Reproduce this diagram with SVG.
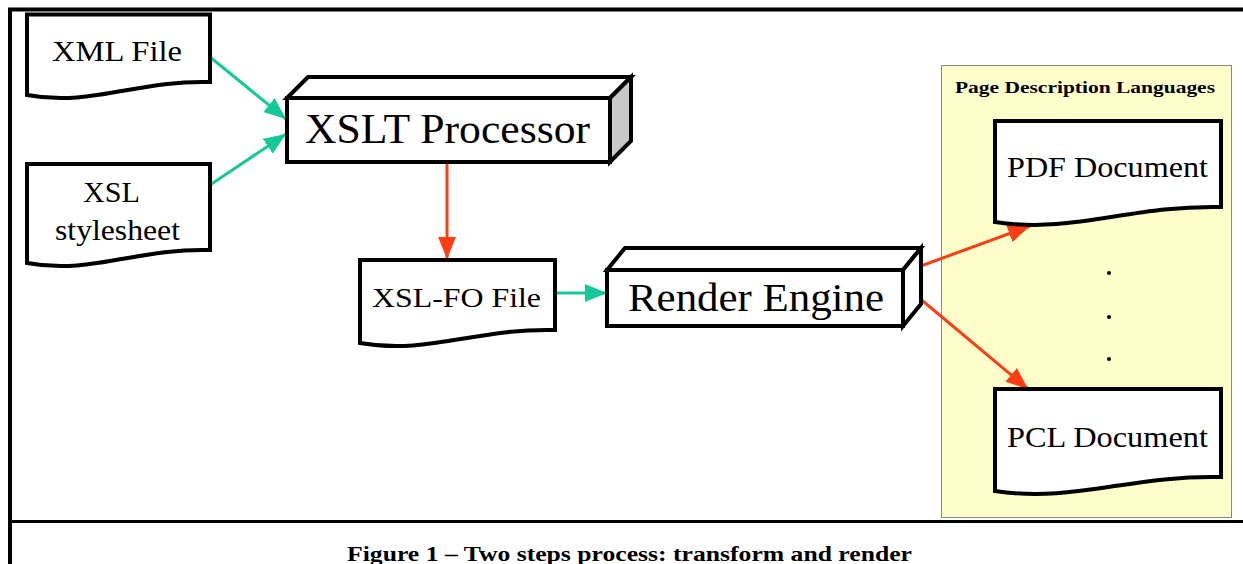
<svg xmlns="http://www.w3.org/2000/svg" width="1243" height="564" viewBox="0 0 1243 564">
<style>
.frame{stroke:#000;stroke-width:4;fill:none}
.doc{fill:#fff;stroke:#000;stroke-width:4;stroke-linejoin:miter}
.box{fill:#fff;stroke:#000;stroke-width:4;stroke-linejoin:miter}
.shade{fill:#c8c8c8;stroke:#000;stroke-width:4;stroke-linejoin:miter}
.teal{stroke:#14c898;stroke-width:3;fill:none}
.red{stroke:#ff3c14;stroke-width:3;fill:none}
</style>
<defs>
<marker id="ah-teal" markerUnits="userSpaceOnUse" markerWidth="24" markerHeight="20" refX="22" refY="9" orient="auto">
<path d="M0,0 L22,9 L0,18 Z" fill="#14c898"/>
</marker>
<marker id="ah-red" markerUnits="userSpaceOnUse" markerWidth="24" markerHeight="20" refX="22" refY="9" orient="auto">
<path d="M0,0 L22,9 L0,18 Z" fill="#ff3c14"/>
</marker>
</defs>
<rect width="1243" height="564" fill="#fff"/>
<g id="frame">
<path class="frame" d="M8,9.5 H1243 M10,8 V564"/>
<path d="M10,521.5 H1243" stroke="#000" stroke-width="3"/>
</g>
<g font-family="Liberation Serif, serif" fill="#000">
<g id="panel">
<rect x="941.5" y="65.5" width="290" height="452" fill="#ffffcc" stroke="#888" stroke-width="1"/>
<text x="955" y="93" font-size="17" font-weight="bold" textLength="260" lengthAdjust="spacingAndGlyphs">Page Description Languages</text>
<circle cx="1109" cy="273" r="2" fill="#000"/>
<circle cx="1109" cy="317" r="2" fill="#000"/>
<circle cx="1109" cy="359" r="2" fill="#000"/>
</g>
<g id="connectors">
<path class="teal" d="M210,57 L286,119" marker-end="url(#ah-teal)"/>
<path class="teal" d="M210,185 L286,134" marker-end="url(#ah-teal)"/>
<path class="red" d="M447,164 L447,259" marker-end="url(#ah-red)"/>
<path class="teal" d="M556,293 L607,293" marker-end="url(#ah-teal)"/>
<path class="red" d="M910,270 L1030,226" marker-end="url(#ah-red)"/>
<path class="red" d="M912,292 L1028,389" marker-end="url(#ah-red)"/>
</g>
<g id="xml-file">
<path class="doc" d="M27,14.5 H210 V82 C137,80 91,107 27,95 Z"/>
<text x="52" y="61" font-size="30" textLength="130" lengthAdjust="spacingAndGlyphs">XML File</text>
</g>
<g id="xsl-stylesheet">
<path class="doc" d="M27,164 H210 V250 C137,248 91,275 27,263 Z"/>
<text x="83" y="202" font-size="30" textLength="57" lengthAdjust="spacingAndGlyphs">XSL</text>
<text x="55" y="240" font-size="30" textLength="125" lengthAdjust="spacingAndGlyphs">stylesheet</text>
</g>
<g id="xslt-processor">
<polygon class="box" points="287,98 308,77 631,77 610,98"/>
<polygon class="shade" points="610,98 631,77 631,141 610,162"/>
<rect class="box" x="287" y="98" width="323" height="64"/>
<text x="305" y="143" font-size="43" textLength="285" lengthAdjust="spacingAndGlyphs">XSLT Processor</text>
</g>
<g id="xsl-fo-file">
<path class="doc" d="M360,260 H555 V330 C477,328 428,355 360,343 Z"/>
<text x="372" y="307" font-size="28" textLength="169" lengthAdjust="spacingAndGlyphs">XSL-FO File</text>
</g>
<g id="render-engine">
<polygon class="box" points="607,270 625,248 921,248 903,270"/>
<polygon class="box" points="903,270 921,248 921,304 903,326"/>
<rect class="box" x="607" y="270" width="296" height="56"/>
<text x="628" y="311" font-size="41" textLength="256" lengthAdjust="spacingAndGlyphs">Render Engine</text>
</g>
<g id="pdf-document">
<path class="doc" d="M995,121 H1221 V207 C1130,205 1074,234 995,222 Z"/>
<text x="1007" y="177" font-size="29" textLength="201" lengthAdjust="spacingAndGlyphs">PDF Document</text>
</g>
<g id="pcl-document">
<path class="doc" d="M995,389 H1221 V477 C1130,475 1074,503 995,491 Z"/>
<text x="1007" y="447" font-size="29" textLength="201" lengthAdjust="spacingAndGlyphs">PCL Document</text>
</g>
<g id="caption">
<text x="347" y="561" font-size="21" font-weight="bold" textLength="565" lengthAdjust="spacingAndGlyphs">Figure 1 – Two steps process: transform and render</text>
</g>
</g>
</svg>
